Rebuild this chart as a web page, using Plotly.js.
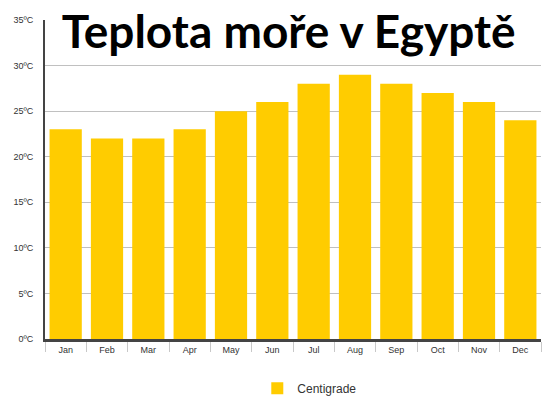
<!DOCTYPE html>
<html>
<head>
<meta charset="utf-8">
<script src="https://cdn.plot.ly/plotly-3.0.1.min.js"></script>
<style>
  html, body { margin: 0; padding: 0; background: #fff; }
  #myDiv { width: 555px; height: 407px; }
</style>
</head>
<body>
<div id="myDiv"></div>
<script>
// mesice a teploty (ºC)
var months = ['Jan', 'Feb', 'Mar', 'Apr', 'May', 'Jun', 'Jul', 'Aug', 'Sep', 'Oct', 'Nov', 'Dec'];
var temps = [23, 22, 22, 23, 25, 26, 28, 29, 28, 27, 26, 24];
var yTicks = [0, 5, 10, 15, 20, 25, 30, 35];
var yLabels = yTicks.map(function (v) { return v + 'ºC'; });

var trace1 = {
  x: months,
  y: temps,
  type: 'bar',
  name: 'Centigrade',
  marker: { color: '#FFCC00' },
  hoverinfo: 'x+y'
};

var layout = {
  width: 555,
  height: 407,
  margin: { l: 45, r: 14, t: 20, b: 68, autoexpand: false },
  paper_bgcolor: '#fff',
  plot_bgcolor: '#fff',
  bargap: 0.22,
  font: { family: 'Arial, Liberation Sans, sans-serif', color: '#333' },
  xaxis: {
    type: 'category',
    showgrid: false,
    showline: true,
    linecolor: '#444',
    linewidth: 3,
    ticks: 'outside',
    tickson: 'boundaries',
    ticklen: 10,
    tickcolor: '#c8c8c8',
    tickwidth: 1,
    tickfont: { size: 9, color: '#333' },
    fixedrange: true
  },
  yaxis: {
    range: [0, 35],
    tickmode: 'array',
    tickvals: yTicks,
    ticktext: yLabels,
    showgrid: true,
    gridcolor: '#c0c0c0',
    gridwidth: 1,
    zeroline: false,
    showline: true,
    linecolor: '#444',
    linewidth: 2,
    ticks: '',
    ticklabelstandoff: 8,
    tickfont: { size: 9, color: '#333' },
    fixedrange: true
  },
  title: {
    text: '<b>Teplota moře v Egyptě</b>',
    font: { family: 'Lato, Open Sans, sans-serif', size: 46, color: '#000' },
    x: 0.52,
    xanchor: 'center',
    y: 0.961,
    yanchor: 'top'
  },
  shapes: [
    {
      // bily podklad pod nadpisem
      type: 'rect',
      xref: 'paper', yref: 'paper',
      x0: 0.036, x1: 1.05, y0: 0.868, y1: 1.1,
      fillcolor: '#fff',
      line: { width: 0 },
      layer: 'above'
    }
  ],
  showlegend: true,
  legend: {
    orientation: 'h',
    x: 0.428,
    xanchor: 'left',
    y: -0.154,
    yanchor: 'middle',
    font: { size: 12, color: '#333' }
  }
};

Plotly.newPlot('myDiv', [trace1], layout, { displayModeBar: false, staticPlot: true });
</script>
</body>
</html>
